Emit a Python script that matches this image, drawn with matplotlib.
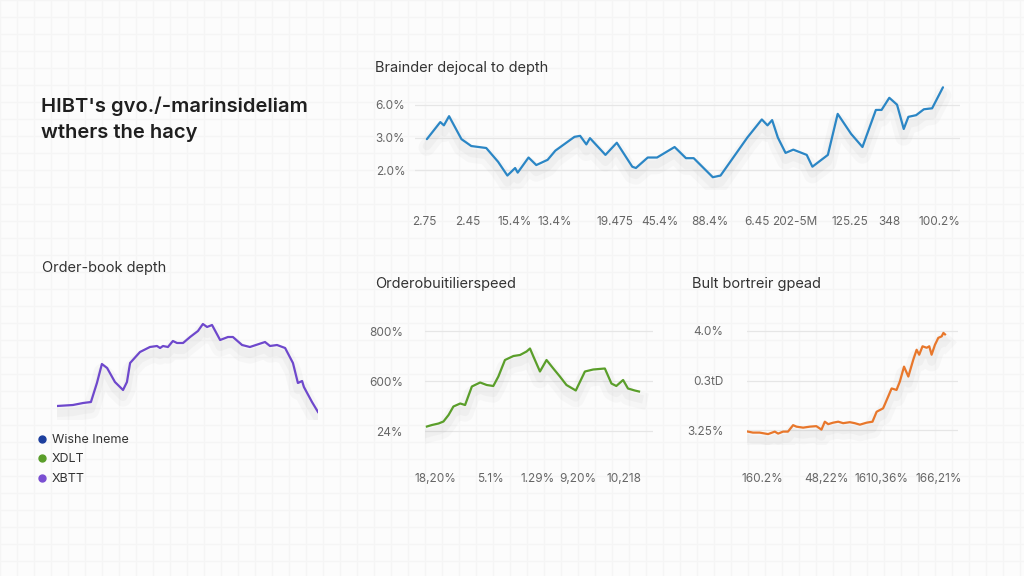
import matplotlib
matplotlib.use("Agg")
import matplotlib.pyplot as plt
import matplotlib.patheffects as pe
from matplotlib.lines import Line2D

# ---------------- data ----------------
title_main = "HIBT's gvo./-marinsideliam\nwthers the hacy"

top_title = "Brainder dejocal to depth"
top_x = [0, 2.6, 3.3, 4.3, 6.7, 8.6, 11.5, 13.8, 15.6, 17.1, 17.6, 19.7, 21.2, 23.4, 24.9,
         28.6, 29.7, 30.9, 31.6, 34.6, 36.8, 39.8, 40.5, 42.8, 44.6, 48.0, 50.2, 51.7,
         55.4, 56.9, 62.1, 64.9, 66.0, 66.9, 68.0, 69.5, 71.0, 73.6, 74.7, 77.7, 79.6,
         82.2, 84.4, 87.0, 88.1, 89.6, 91.1, 92.4, 93.3, 94.8, 96.3, 97.9, 100]
top_y = [0.95, 1.47, 1.37, 1.65, 0.95, 0.74, 0.68, 0.26, -0.16, 0.07, -0.07, 0.39, 0.16,
         0.32, 0.60, 1.02, 1.05, 0.79, 0.98, 0.47, 0.84, 0.11, 0.07, 0.39, 0.39, 0.71,
         0.37, 0.37, -0.21, -0.16, 1.00, 1.55, 1.37, 1.53, 1.00, 0.53, 0.63, 0.47, 0.11,
         0.47, 1.72, 1.11, 0.71, 1.84, 1.84, 2.21, 2.00, 1.26, 1.63, 1.68, 1.86, 1.89, 2.53]
top_yticks = [0, 1, 2]
top_yticklabels = ["2.0%", "3.0%", "6.0%"]
top_xticks = [-0.4, 7.9, 17.1, 24.8, 36.4, 45.2, 54.8, 64.0, 71.3, 82.0, 89.7, 99.4]
top_xticklabels = ["2.75", "2.45", "15.4%", "13.4%", "19.475", "45.4%", "88.4%",
                   "6.45", "202-5M", "125.25", "348", "100.2%"]

depth_title = "Order-book depth"
depth_x = [0, 6.1, 10.0, 13.0, 15.3, 17.2, 19.2, 22.2, 25.3, 26.8, 28.0, 31.8, 35.6, 38.3,
           39.5, 40.6, 42.5, 44.4, 46.0, 48.3, 51.0, 54.0, 55.9, 57.5, 59.4, 62.5, 65.5,
           67.4, 70.9, 73.9, 79.7, 81.6, 84.3, 87.4, 90.4, 92.3, 93.9, 94.6, 97.7, 100]
depth_y = [2.4, 2.5, 2.7, 2.8, 4.7, 6.6, 6.2, 4.8, 4.0, 4.8, 6.7, 7.8, 8.3, 8.4, 8.2, 8.4,
           8.3, 8.9, 8.7, 8.7, 9.3, 9.9, 10.6, 10.3, 10.5, 9.0, 9.3, 9.3, 8.5, 8.3, 8.8,
           8.4, 8.5, 8.2, 6.7, 4.7, 4.9, 4.3, 2.8, 1.8]
legend_labels = ["Wishe Ineme", "XDLT", "XBTT"]
legend_colors = ["#1d3f9e", "#5a9e2a", "#7a4fd2"]

speed_title = "Orderobuitilierspeed"
speed_x = [0, 2.4, 5.5, 7.8, 10.2, 12.5, 15.7, 18.0, 21.2, 25.1, 28.2, 31.3, 33.7, 36.8,
           40.8, 43.9, 47.0, 48.6, 50.2, 53.3, 56.4, 59.6, 62.7, 65.8, 70.2, 74.5, 78.4,
           83.9, 87.0, 89.3, 92.5, 94.8, 98.0, 100]
speed_y = [0.09, 0.12, 0.15, 0.19, 0.32, 0.49, 0.55, 0.52, 0.89, 0.97, 0.92, 0.90, 1.09,
           1.42, 1.50, 1.52, 1.59, 1.65, 1.49, 1.19, 1.42, 1.25, 1.09, 0.92, 0.81, 1.19,
           1.23, 1.25, 0.95, 0.90, 1.02, 0.85, 0.81, 0.79]
speed_yticklabels = ["24%", "600%", "800%"]
speed_xticks = [4, 30, 52, 71, 93]
speed_xticklabels = ["18,20%", "5.1%", "1.29%", "9,20%", "10,218"]

spread_title = "Bult bortreir gpead"
spread_x = [0, 2.5, 5.9, 10.2, 13.6, 15.3, 17.8, 20.3, 22.9, 24.6, 28.0, 31.4, 34.7, 37.3,
            39.0, 40.7, 43.2, 45.8, 48.3, 51.7, 54.2, 56.8, 60.2, 63.2, 65.3, 68.6, 71.2,
            72.9, 75.4, 77.1, 79.2, 81.4, 83.9, 85.6, 86.9, 88.6, 90.7, 92.0, 93.2, 94.9,
            96.6, 98.3, 99.2, 100]
spread_y = [-0.03, -0.05, -0.05, -0.08, -0.03, -0.07, -0.03, -0.03, 0.10, 0.07, 0.05, 0.07,
            0.08, 0.01, 0.17, 0.12, 0.15, 0.17, 0.14, 0.16, 0.14, 0.11, 0.15, 0.17, 0.37,
            0.44, 0.68, 0.84, 0.81, 0.98, 1.28, 1.08, 1.42, 1.62, 1.52, 1.69, 1.66, 1.69,
            1.52, 1.72, 1.86, 1.89, 1.96, 1.93]
spread_yticklabels = ["3.25%", "0.3tD", "4.0%"]
spread_xticks = [7.5, 40, 68, 97]
spread_xticklabels = ["160.2%", "48,22%", "1610,36%", "166,21%"]

# ---------------- styling ----------------
W, H = 1024, 576
BG = "#fcfcfc"
GRID = "#e6e6e6"
TICK = "#666666"
FONT = ["Inter", "DejaVu Sans"]
plt.rcParams["font.family"] = FONT

fig = plt.figure(figsize=(W / 100, H / 100), dpi=100, facecolor=BG)

# faint background texture
bg = fig.add_axes([0, 0, 1, 1], zorder=-10)
bg.set_xlim(0, W)
bg.set_ylim(H, 0)
bg.axis("off")
for gx in range(0, W, 17):
    bg.axvline(gx, color="#f5f5f5", lw=1.0, zorder=0)
for gy in range(0, H, 17):
    bg.axhline(gy, color="#f5f5f5", lw=1.0, zorder=0)


def px_axes(left, top, right, bottom):
    return fig.add_axes([left / W, 1 - bottom / H, (right - left) / W, (bottom - top) / H])


def shadow():
    return [pe.SimpleLineShadow(offset=(0, -6), shadow_color="#9a9a9a", alpha=0.06, linewidth=12),
            pe.SimpleLineShadow(offset=(0, -5), shadow_color="#9a9a9a", alpha=0.07, linewidth=6),
            pe.Normal()]


def style(ax, ypad, xpad):
    ax.set_facecolor("none")
    for s in ax.spines.values():
        s.set_visible(False)
    ax.tick_params(length=0, colors=TICK, labelsize=8.5)
    ax.tick_params(axis="y", pad=ypad)
    ax.tick_params(axis="x", pad=xpad)
    ax.grid(axis="y", color=GRID, lw=0.9)
    ax.set_axisbelow(True)


# main title
fig.text(41 / W, 1 - 97 / H, title_main, fontsize=14.5, fontweight="semibold",
         color="#1f1f1f", va="top", ha="left", linespacing=1.5)

# top chart
ax1 = px_axes(415, 85, 960, 190)
ax1.plot(top_x, top_y, color="#2b86c5", lw=1.6, path_effects=shadow(), solid_capstyle="round")
ax1.set_xlim(-2.3, 103.3)
ax1.set_ylim(-0.6, 2.6)
ax1.set_yticks(top_yticks, top_yticklabels)
ax1.set_xticks(top_xticks, top_xticklabels)
style(ax1, 7, 19)
fig.text(375 / W, 1 - 68 / H, top_title, fontsize=10.5, color="#333333", va="center")

# order-book depth
ax2 = px_axes(57, 320, 318, 420)
ax2.plot(depth_x, depth_y, color="#6e48cc", lw=1.6, path_effects=shadow())
ax2.set_xlim(0, 100)
ax2.set_ylim(1.0, 11.0)
ax2.axis("off")
fig.text(42 / W, 1 - 268 / H, depth_title, fontsize=10.5, color="#333333", va="center")
handles = [Line2D([], [], ls="", marker="o", markersize=5, color=c) for c in legend_colors]
fig.legend(handles, legend_labels, loc="upper left", bbox_to_anchor=(38 / W, 1 - 434 / H),
           frameon=False, fontsize=9, labelcolor="#333333", handlelength=0.7,
           handletextpad=0.4, labelspacing=0.6, borderpad=0, borderaxespad=0)

# speed chart
ax3 = px_axes(425, 320, 653, 445)
ax3.plot(speed_x, speed_y, color="#5a9e2a", lw=1.6, path_effects=shadow())
ax3.set_xlim(-0.9, 106.6)
ax3.set_ylim(-0.28, 2.22)
ax3.set_yticks([0, 1, 2], speed_yticklabels)
ax3.set_xticks(speed_xticks, speed_xticklabels)
style(ax3, 16, 20)
fig.text(375 / W, 1 - 284 / H, speed_title, fontsize=10.5, color="#333333", va="center")

# spread chart
ax4 = px_axes(747, 320, 958, 445)
ax4.plot(spread_x, spread_y, color="#e8772b", lw=1.6, path_effects=shadow())
ax4.set_xlim(-0.5, 106.6)
ax4.set_ylim(-0.3, 2.22)
ax4.set_yticks([0, 1, 2], spread_yticklabels)
ax4.set_xticks(spread_xticks, spread_xticklabels)
style(ax4, 17, 20)
fig.text(692 / W, 1 - 284 / H, spread_title, fontsize=10.5, color="#333333", va="center")

fig.savefig("out.png", dpi=100, facecolor=BG)
